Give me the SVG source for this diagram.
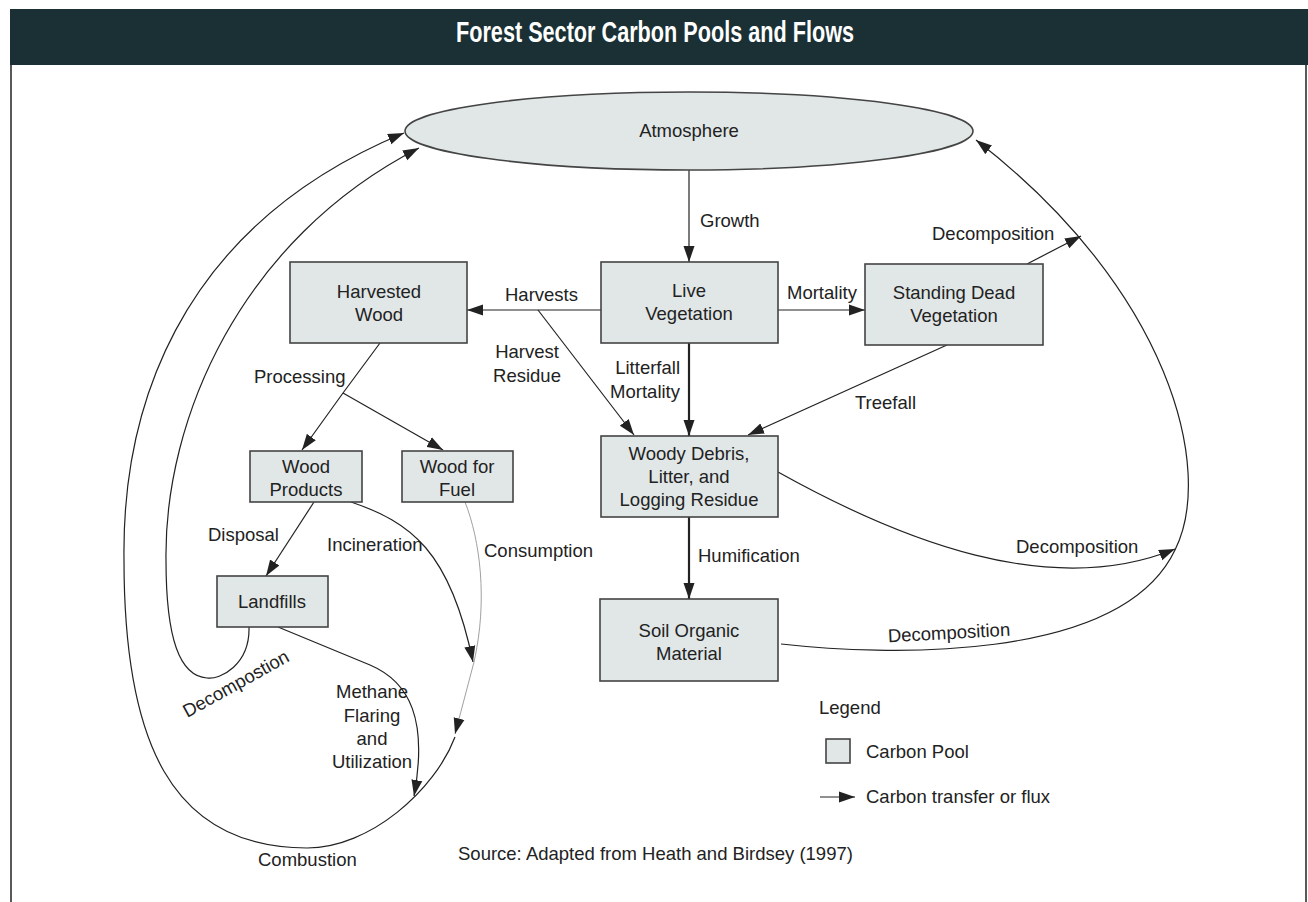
<svg xmlns="http://www.w3.org/2000/svg" width="1308" height="902" viewBox="0 0 1308 902">
<style>
  text { font-family: "Liberation Sans", Arial, sans-serif; font-size: 18.5px; fill: #222; }
  .pool { fill: #e1e7e7; stroke: #444; stroke-width: 1.6; }
  .c { fill: none; stroke: #222; stroke-width: 1.2; }
  .thick { stroke-width: 2.2; }
  .thin { fill: none; stroke: #888; stroke-width: 0.8; }
  .mid { text-anchor: middle; }
  .end { text-anchor: end; }
  .title { font-size: 29px; font-weight: bold; fill: #fff; }
</style>
<defs>
  <marker id="ah" markerUnits="userSpaceOnUse" markerWidth="16" markerHeight="12" viewBox="0 0 16 12" refX="16" refY="6" orient="auto">
    <path d="M0,0.5 L16,6 L0,11.5 z" fill="#222"/>
  </marker>
</defs>
<rect x="0" y="0" width="1308" height="902" fill="#fff"/>
<rect x="10" y="9" width="1298" height="56" fill="#1a3035"/>
<text x="655" y="42" class="title mid" textLength="398" lengthAdjust="spacingAndGlyphs">Forest Sector Carbon Pools and Flows</text>
<line x1="11" y1="65" x2="11" y2="902" stroke="#222" stroke-width="1.5"/>
<line x1="1306" y1="65" x2="1306" y2="902" stroke="#222" stroke-width="1.5"/>

<g id="connectors">
  <path class="c" d="M689 169 L689 262" marker-end="url(#ah)" stroke-width="1.6"/>
  <path class="c" d="M601 310 L467 310" marker-end="url(#ah)"/>
  <path class="c" d="M538 310 L634 435" marker-end="url(#ah)"/>
  <path class="c thick" d="M689 343 L689 436" marker-end="url(#ah)"/>
  <path class="c" d="M778 310 L865 310" marker-end="url(#ah)"/>
  <path class="c" d="M1027 264 L1081 236" marker-end="url(#ah)"/>
  <path class="c" d="M947 345 L748 435" marker-end="url(#ah)"/>
  <path class="c thick" d="M689 517 L689 599" marker-end="url(#ah)"/>
  <path class="c" d="M781 644 C880 655, 1120 665, 1175 550 C1215 470, 1170 290, 976 140" marker-end="url(#ah)"/>
  <path class="c" d="M778 472 C900 540, 1050 600, 1175 549" marker-end="url(#ah)"/>
  <path class="c" d="M380 343 L343 393 L302 450" marker-end="url(#ah)"/>
  <path class="c" d="M343 393 L443 450" marker-end="url(#ah)"/>
  <path class="c" d="M314 502 L266 576" marker-end="url(#ah)"/>
  <path class="c" d="M351 502 C410 522, 450 550, 473 662" marker-end="url(#ah)"/>
  <path class="thin" d="M465 502 C480 540, 488 600, 474 662"/>
  <path class="thin" d="M474 662 L455 734" marker-end="url(#ah)"/>
  <path class="c" d="M278 627 L370 665 C410 682, 428 720, 414 796" marker-end="url(#ah)"/>
  <path class="c" d="M455 737 C435 790, 370 848, 307 848 C170 848, 124 740, 124 560 C122 420, 170 230, 404 133" marker-end="url(#ah)"/>
  <path class="c" d="M249 627 C250 665, 220 680, 207 678 C180 676, 166 640, 166 560 C164 420, 240 240, 419 148" marker-end="url(#ah)"/>
</g>

<g id="atmosphere">
  <ellipse cx="689" cy="131" rx="284" ry="39" class="pool"/>
  <text x="689" y="137" class="mid">Atmosphere</text>
</g>
<g id="live-vegetation">
  <rect x="601" y="262" width="177" height="81" class="pool"/>
  <text x="689" y="297" class="mid">Live</text>
  <text x="689" y="320" class="mid">Vegetation</text>
</g>
<g id="standing-dead">
  <rect x="865" y="264" width="178" height="81" class="pool"/>
  <text x="954" y="299" class="mid">Standing Dead</text>
  <text x="954" y="322" class="mid">Vegetation</text>
</g>
<g id="harvested-wood">
  <rect x="290" y="262" width="177" height="81" class="pool"/>
  <text x="379" y="298" class="mid">Harvested</text>
  <text x="379" y="321" class="mid">Wood</text>
</g>
<g id="woody-debris">
  <rect x="601" y="436" width="177" height="81" class="pool"/>
  <text x="689" y="460" class="mid">Woody Debris,</text>
  <text x="689" y="483" class="mid">Litter, and</text>
  <text x="689" y="506" class="mid">Logging Residue</text>
</g>
<g id="soil-organic">
  <rect x="600" y="599" width="178" height="82" class="pool"/>
  <text x="689" y="637" class="mid">Soil Organic</text>
  <text x="689" y="660" class="mid">Material</text>
</g>
<g id="wood-products">
  <rect x="250" y="451" width="112" height="51" class="pool"/>
  <text x="306" y="473" class="mid">Wood</text>
  <text x="306" y="496" class="mid">Products</text>
</g>
<g id="wood-fuel">
  <rect x="402" y="451" width="111" height="51" class="pool"/>
  <text x="457" y="473" class="mid">Wood for</text>
  <text x="457" y="496" class="mid">Fuel</text>
</g>
<g id="landfills">
  <rect x="217" y="576" width="111" height="51" class="pool"/>
  <text x="272" y="608" class="mid">Landfills</text>
</g>

<g id="labels">
  <text x="700" y="227">Growth</text>
  <text x="505" y="301">Harvests</text>
  <text x="787" y="299">Mortality</text>
  <text x="932" y="240">Decomposition</text>
  <text x="527" y="358" class="mid">Harvest</text>
  <text x="527" y="382" class="mid">Residue</text>
  <text x="680" y="374" class="end">Litterfall</text>
  <text x="680" y="398" class="end">Mortality</text>
  <text x="855" y="409">Treefall</text>
  <text x="254" y="383">Processing</text>
  <text x="208" y="541">Disposal</text>
  <text x="327" y="551">Incineration</text>
  <text x="484" y="557">Consumption</text>
  <text x="698" y="562">Humification</text>
  <text x="1016" y="553">Decomposition</text>
  <text x="949" y="639" class="mid" transform="rotate(-3 949 633)">Decomposition</text>
  <text x="236" y="690" class="mid" transform="rotate(-29 236 684)">Decompostion</text>
  <text x="372" y="698" class="mid">Methane</text>
  <text x="372" y="722" class="mid">Flaring</text>
  <text x="372" y="745" class="mid">and</text>
  <text x="372" y="768" class="mid">Utilization</text>
  <text x="258" y="866">Combustion</text>
  <text x="458" y="860">Source: Adapted from Heath and Birdsey (1997)</text>
</g>

<g id="legend">
  <text x="819" y="714">Legend</text>
  <rect x="826" y="739" width="24" height="24" class="pool"/>
  <text x="866" y="758">Carbon Pool</text>
  <path class="c" d="M820 797 L855 797" marker-end="url(#ah)"/>
  <text x="866" y="803">Carbon transfer or flux</text>
</g>
</svg>
